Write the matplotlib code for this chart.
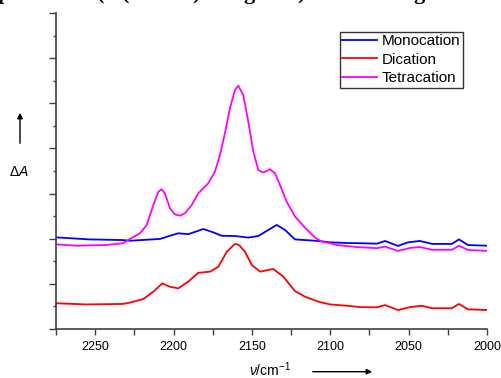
"""
Difference IR spectra of the mono-, di- and tetracation (nu(CN) region).
"""
import matplotlib
matplotlib.use("Agg")
import matplotlib.pyplot as plt
from matplotlib.ticker import MultipleLocator, NullFormatter

matplotlib.rcParams.update({
    'font.family': 'Liberation Sans',
    'mathtext.fontset': 'custom',
    'mathtext.rm': 'Liberation Sans',
    'mathtext.it': 'Liberation Sans:italic',
    'font.size': 9,
})

# wavenumber (cm-1) and dA (arb. units)
mono_wn = [2275, 2253.9, 2232.3, 2227.8, 2208.6, 2202.3, 2197.0, 2190.6, 2181.0,
           2174.6, 2169.3, 2160.8, 2152.3, 2145.9, 2139.5, 2134.2, 2128.9, 2122.5,
           2116.1, 2107.6, 2100.2, 2089.3, 2081.0, 2070.2, 2065.1, 2056.8, 2050.4,
           2042.8, 2035.1, 2022.4, 2017.9, 2012.1, 2000]
mono_da = [4.06, 3.97, 3.94, 3.91, 3.99, 4.13, 4.24, 4.20, 4.43,
           4.28, 4.13, 4.12, 4.05, 4.12, 4.39, 4.61, 4.39, 3.97,
           3.94, 3.90, 3.84, 3.81, 3.80, 3.78, 3.90, 3.68, 3.84,
           3.90, 3.77, 3.77, 3.97, 3.72, 3.69]

di_wn = [2275, 2255.9, 2232.3, 2227.8, 2219.3, 2212.9, 2207.2, 2202.3, 2197.0,
         2190.6, 2184.2, 2176.7, 2171.4, 2166.1, 2160.8, 2158.2, 2154.4, 2150.1,
         2144.8, 2136.4, 2130.0, 2122.5, 2116.1, 2107.6, 2100.2, 2089.3, 2081.0,
         2070.2, 2065.1, 2056.8, 2049.1, 2041.5, 2035.1, 2022.4, 2017.9, 2012.1,
         2000]
di_da = [1.14, 1.09, 1.11, 1.17, 1.33, 1.65, 2.02, 1.87, 1.80,
         2.10, 2.49, 2.54, 2.76, 3.42, 3.77, 3.72, 3.42, 2.84,
         2.54, 2.66, 2.32, 1.68, 1.43, 1.21, 1.09, 1.03, 0.97,
         0.96, 1.06, 0.84, 0.97, 1.03, 0.92, 0.92, 1.11, 0.87,
         0.84]

tetra_wn = [2275, 2262.2, 2243.1, 2232.3, 2227.8, 2221.4, 2217.1, 2212.9, 2209.7,
            2207.6, 2205.5, 2202.3, 2199.1, 2195.9, 2192.7, 2188.4, 2184.2, 2177.8,
            2173.6, 2170.4, 2167.2, 2164.0, 2160.8, 2158.7, 2155.5, 2152.3, 2149.1,
            2145.9, 2142.7, 2138.5, 2135.3, 2132.1, 2127.8, 2122.5, 2116.1, 2109.7,
            2105.5, 2100.2, 2095.7, 2083.0, 2070.2, 2065.1, 2056.8, 2049.1, 2042.8,
            2035.1, 2022.4, 2017.9, 2012.1, 2000]
tetra_da = [3.75, 3.69, 3.72, 3.80, 3.99, 4.24, 4.61, 5.49, 6.08,
            6.19, 6.01, 5.35, 5.08, 5.02, 5.13, 5.49, 6.01, 6.46,
            6.97, 7.71, 8.68, 9.79, 10.59, 10.78, 10.37, 9.18, 7.86,
            7.04, 6.93, 7.08, 6.90, 6.38, 5.64, 4.98, 4.49, 4.05,
            3.87, 3.80, 3.72, 3.63, 3.58, 3.65, 3.46, 3.59, 3.63,
            3.51, 3.51, 3.69, 3.50, 3.46]

W, H = 501, 378
fig = plt.figure(figsize=(W / 100, H / 100), dpi=100)
ax = fig.add_axes([56 / W, 49 / H, 431 / W, 316 / H])

ax.plot(mono_wn, mono_da, color='#0000ff', lw=1.3, label='Monocation')
ax.plot(di_wn, di_da, color='#ff0000', lw=1.3, label='Dication')
ax.plot(tetra_wn, tetra_da, color='#ff00ff', lw=1.3, label='Tetracation')

ax.set_xlim(2275, 2000)
ax.set_ylim(0, 14)
ax.xaxis.set_major_locator(MultipleLocator(50))
ax.xaxis.set_minor_locator(MultipleLocator(25))
ax.yaxis.set_major_locator(MultipleLocator(2))
ax.yaxis.set_minor_locator(MultipleLocator(1))
ax.yaxis.set_major_formatter(NullFormatter())

for side in ('top', 'right'):
    ax.spines[side].set_visible(False)
for side in ('left', 'bottom'):
    ax.spines[side].set_color('#404040')
    ax.spines[side].set_linewidth(1.2)
ax.tick_params(which='both', direction='out', color='#404040', width=1)
ax.tick_params(axis='x', which='major', length=4, pad=4.5, labelsize=9)
ax.tick_params(axis='x', which='minor', length=4)
ax.tick_params(axis='y', which='major', length=5)
ax.tick_params(axis='y', which='minor', length=2.5)

leg = ax.legend(loc='upper right', bbox_to_anchor=(462.7 / W, 1 - 31.7 / H),
                bbox_transform=fig.transFigure, fontsize=11, frameon=True,
                fancybox=False, edgecolor='black', borderaxespad=0,
                borderpad=0.15, labelspacing=0.31, handlelength=2.3,
                handletextpad=0.3)
leg.get_frame().set_linewidth(1.0)

# axis labels with arrows, as in the original figure
fig.text(19 / W, 1 - 172 / H, r'$\Delta A$', ha='center', va='center', fontsize=10)
ax.annotate('', xy=(20, H - 110), xytext=(20, H - 146), xycoords='figure pixels',
            arrowprops=dict(arrowstyle='-|>', color='black', lw=1,
                            mutation_scale=8))
fig.text(270 / W, 1 - 370 / H, r'$\nu$/cm$^{-1}$', ha='center', va='center',
         fontsize=10)
ax.annotate('', xy=(375, H - 371.7), xytext=(310, H - 371.7),
            xycoords='figure pixels',
            arrowprops=dict(arrowstyle='-|>', color='black', lw=1,
                            mutation_scale=8))

# clipped caption line of the page above the figure
for ch, px in [('p', -2), ('(', 97), ('(', 122), (')', 192), ('g', 243),
               (')', 297), ('g', 413)]:
    fig.text(px / W, 1 + 1 / H, ch, ha='left', va='baseline', fontsize=16,
             fontweight='bold', family='Liberation Serif')

fig.savefig('out.png', dpi=100)
